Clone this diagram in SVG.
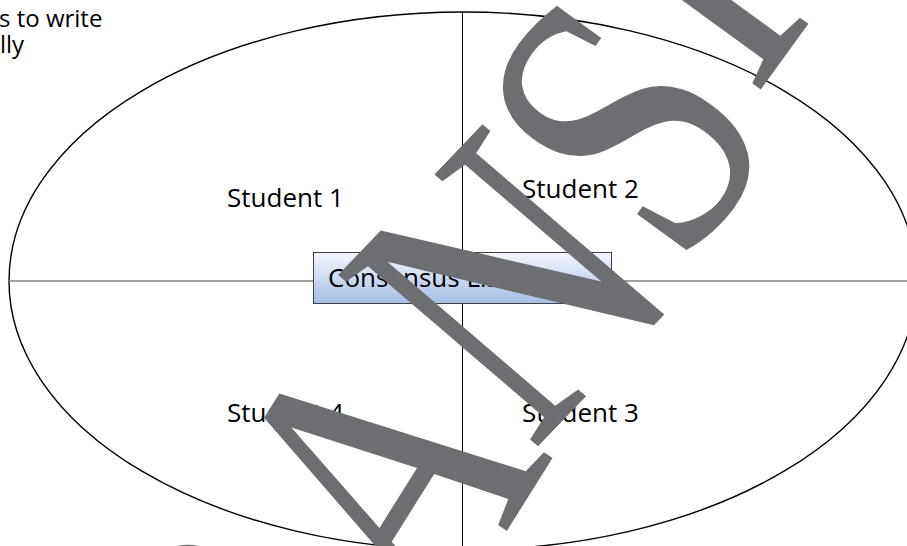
<svg xmlns="http://www.w3.org/2000/svg" width="907" height="546" viewBox="0 0 907 546">
<defs>
<linearGradient id="boxFill" x1="0" y1="0" x2="0" y2="1">
<stop offset="0" stop-color="#f4f7fd"/>
<stop offset="1" stop-color="#a6bde6"/>
</linearGradient>
<style>
.lbl{font-family:"Open Sans","Noto Sans","Liberation Sans",sans-serif;font-size:26px;fill:#000}
.top{font-family:"Open Sans","Noto Sans","Liberation Sans",sans-serif;font-size:24px;fill:#000}
.wm{font-family:"Liberation Serif","DejaVu Serif",serif;font-size:310px;fill:#6d6e71}
</style>
</defs>
<rect width="907" height="546" fill="#fff"/>
<g id="intro-text">
<text class="top" x="-1" y="27">s to write</text>
<text class="top" x="0" y="53">lly</text>
</g>
<g id="ellipse">
<ellipse cx="463" cy="281" rx="454" ry="269" fill="none" stroke="#000" stroke-width="1.4"/>
</g>
<g id="connectors">
<line x1="9" y1="281" x2="907" y2="281" stroke="#808080" stroke-width="1.7"/>
<line x1="462.5" y1="12" x2="462.5" y2="546" stroke="#000" stroke-width="1"/>
</g>
<g id="student1"><text class="lbl" x="227" y="207">Student 1</text></g>
<g id="student2"><text class="lbl" x="522" y="198">Student 2</text></g>
<g id="student3"><text class="lbl" x="522" y="422">Student 3</text></g>
<g id="student4"><text class="lbl" x="227" y="422">Student 4</text></g>
<g id="consensus">
<rect x="313.5" y="252.5" width="298" height="51" fill="url(#boxFill)" stroke="#404040" stroke-width="1"/>
<text class="lbl" x="328" y="287">Consensus List</text>
</g>
<g id="watermark">
<text class="wm" transform="translate(419,635) rotate(-54) scale(1,1.3)"><tspan x="-222" y="0">R</tspan><tspan x="0.3" y="14.7" rotate="-3">A</tspan><tspan x="213.7" y="-12.2" rotate="6">N</tspan><tspan x="447.6" y="0">S</tspan><tspan x="631" y="-34">I</tspan></text>
</g>
</svg>
